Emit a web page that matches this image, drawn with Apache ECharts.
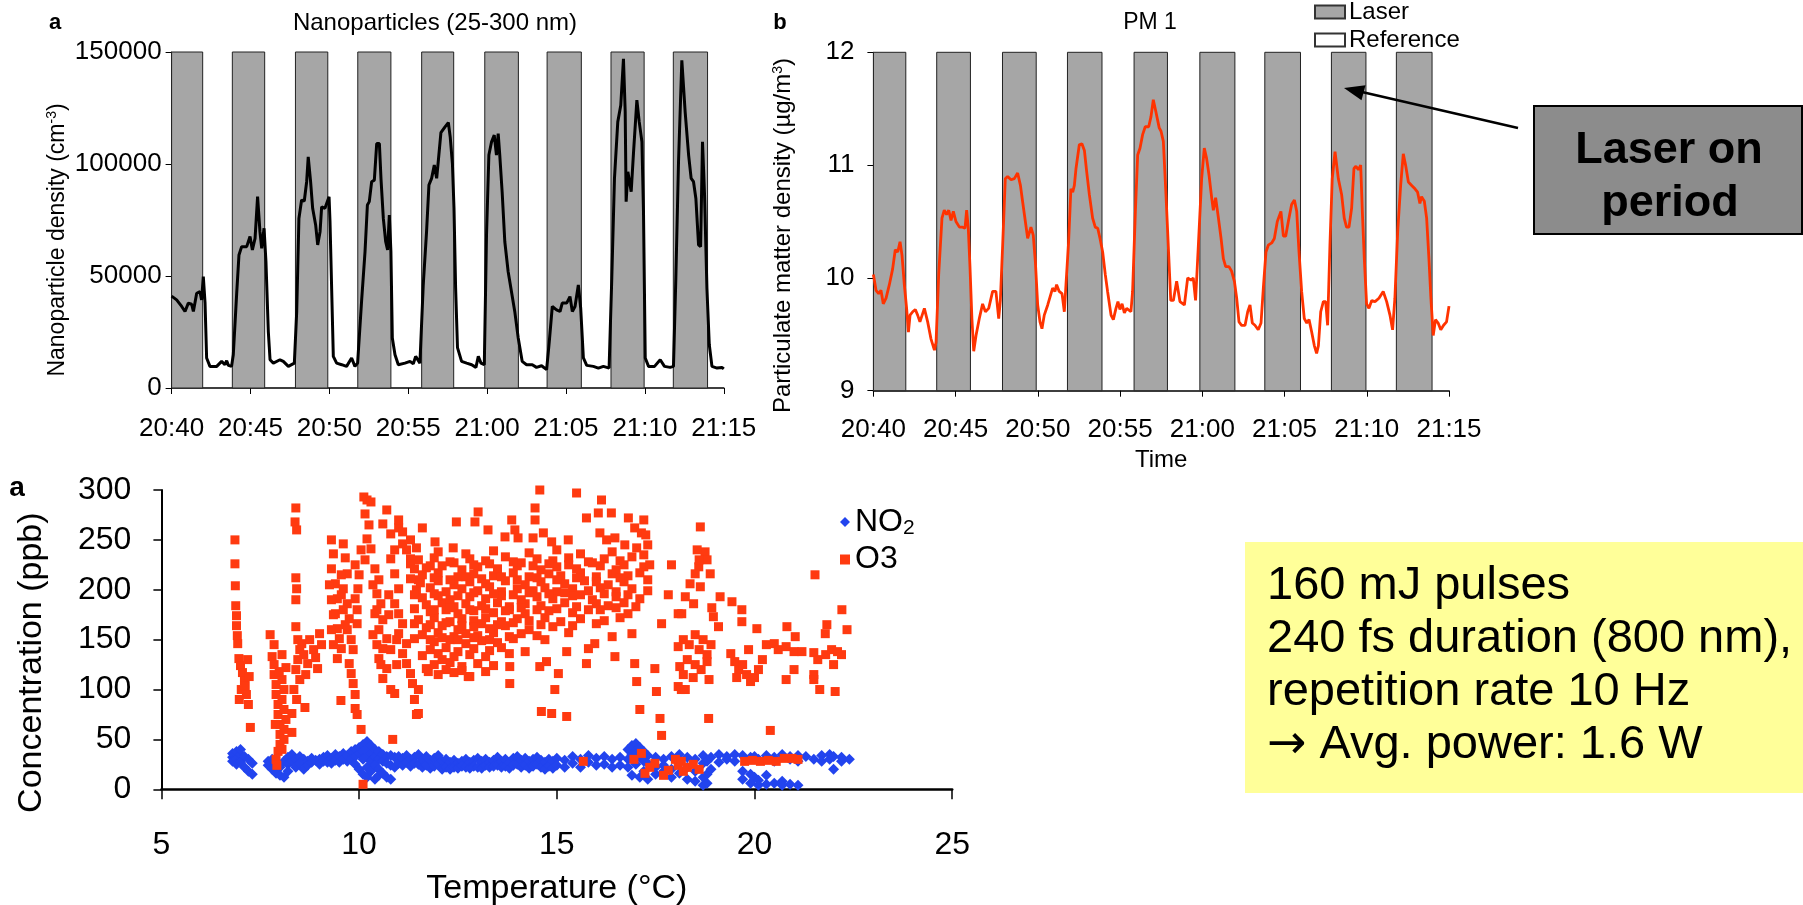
<!DOCTYPE html>
<html>
<head>
<meta charset="utf-8">
<script src="https://cdn.jsdelivr.net/npm/echarts@6/dist/echarts.min.js"></script>
<style>
  html, body { margin: 0; padding: 0; background: #fff; }
  #chart { width: 1803px; height: 905px; }
</style>
</head>
<body>
<div id="chart"></div>
<script>
// Données relevées à l'oeil sur la figure (minutes depuis 20:40)
const FONT = '"Liberation Sans", Arial, sans-serif';
const timeLabels = ['20:40', '20:45', '20:50', '20:55', '21:00', '21:05', '21:10', '21:15'];
const laserStart = [0, 3.85, 7.85, 11.8, 15.85, 19.85, 23.8, 27.85, 31.8];
const laserEnd = [1.97, 5.9, 9.9, 13.9, 17.88, 21.98, 25.97, 29.95, 33.97];

const nanoParticles = [
  [0, 41000], [0.32, 39350], [0.64, 36400], [0.85, 34150], [1.06, 37870], [1.27, 37400], [1.38, 34150],
  [1.59, 42300], [1.8, 43000], [1.9, 39350], [2.01, 49750], [2.12, 37870], [2.22, 13400], [2.43, 9650],
  [2.86, 9650], [3.17, 11900], [3.38, 10400], [3.49, 12200], [3.6, 10100], [3.8, 9650], [3.91, 14850],
  [4.12, 41600], [4.27, 59400], [4.44, 63100], [4.76, 63100], [4.97, 67600], [5.12, 61600], [5.29, 66800],
  [5.45, 85400], [5.6, 69800], [5.71, 62400], [5.86, 71300], [5.98, 56400], [6.13, 25200], [6.24, 12600],
  [6.45, 11100], [6.87, 12600], [7.08, 11900], [7.4, 9650], [7.78, 11100], [7.93, 34150], [8.07, 75700],
  [8.24, 83900], [8.41, 83500], [8.56, 92100], [8.66, 103200], [8.81, 92100], [8.94, 80200], [9.13, 72800],
  [9.26, 63900], [9.41, 69800], [9.51, 80900], [9.72, 80200], [9.98, 85400], [10.04, 74250], [10.25, 14100],
  [10.46, 11100], [10.78, 10400], [11.09, 9650], [11.41, 13400], [11.62, 9650], [11.79, 11100], [12.04, 38600],
  [12.26, 60900], [12.41, 81700], [12.53, 83200], [12.68, 92100], [12.85, 92800], [13.0, 109100], [13.17, 109100],
  [13.27, 93600], [13.42, 75700], [13.57, 65300], [13.69, 61600], [13.8, 77200], [13.9, 60900], [13.99, 22300],
  [14.16, 14850], [14.37, 10400], [14.79, 11100], [15.11, 11900], [15.32, 10800], [15.47, 14100], [15.74, 11100],
  [15.95, 46000], [16.16, 69800], [16.31, 90600], [16.48, 93600], [16.65, 99500], [16.8, 93600], [16.9, 101000],
  [17.07, 114000], [17.33, 116600], [17.54, 118500], [17.66, 112000], [17.8, 100000], [17.9, 80000], [18.0, 45000],
  [18.12, 18000], [18.38, 11900], [18.7, 11100], [19.02, 10400], [19.29, 9200], [19.44, 14100], [19.61, 11100],
  [19.82, 10400], [19.96, 68300], [20.11, 104000], [20.28, 109900], [20.45, 112900], [20.59, 104000], [20.7, 113600],
  [20.8, 104000], [20.95, 87600], [21.12, 65300], [21.33, 52000], [21.54, 43100], [21.75, 34200], [21.97, 22300],
  [22.22, 11900], [22.5, 10400], [22.86, 10400], [23.13, 9200], [23.45, 9950], [23.77, 8200], [23.94, 20800],
  [24.13, 36400], [24.4, 34900], [24.62, 34150], [24.76, 37900], [25.04, 37900], [25.25, 40800], [25.4, 34150],
  [25.57, 36400], [25.78, 46000], [25.93, 35600], [26.1, 13400], [26.31, 10100], [26.73, 9650], [27.05, 8900],
  [27.37, 9650], [27.73, 8900], [27.9, 49000], [28.07, 93600], [28.28, 118800], [28.47, 126200], [28.64, 147000],
  [28.75, 123300], [28.81, 83200], [28.92, 96500], [29.03, 97300], [29.13, 87600], [29.28, 105400], [29.49, 128500],
  [29.64, 118800], [29.81, 109900], [29.91, 78700], [30.02, 13400], [30.23, 9650], [30.61, 9650], [30.97, 12600],
  [31.24, 9650], [31.6, 9200], [31.81, 9650], [31.96, 49000], [32.13, 101000], [32.34, 146300], [32.55, 123300],
  [32.77, 104000], [32.93, 93600], [33.08, 92100], [33.23, 84600], [33.4, 63900], [33.53, 63100], [33.65, 109900],
  [33.78, 86100], [33.93, 44550], [34.08, 19300], [34.25, 9650], [34.57, 8900], [34.88, 9200], [35.0, 8500]
];

const pm1 = [
  [0, 10.03], [0.16, 9.89], [0.32, 9.86], [0.46, 9.89], [0.6, 9.77], [0.77, 9.82], [0.97, 9.94], [1.17, 10.08],
  [1.33, 10.25], [1.48, 10.23], [1.62, 10.32], [1.74, 10.2], [1.88, 9.94], [2.02, 9.73], [2.13, 9.52], [2.23, 9.67],
  [2.39, 9.7], [2.55, 9.72], [2.69, 9.67], [2.83, 9.61], [3.1, 9.73], [3.3, 9.61], [3.5, 9.46], [3.71, 9.36],
  [3.81, 9.43], [3.97, 10.03], [4.17, 10.53], [4.31, 10.6], [4.45, 10.56], [4.58, 10.6], [4.72, 10.51], [4.86, 10.59],
  [5.02, 10.5], [5.23, 10.45], [5.43, 10.45], [5.57, 10.44], [5.67, 10.6], [5.77, 10.44], [5.87, 10.11], [5.99, 9.64],
  [6.1, 9.35], [6.24, 9.49], [6.44, 9.64], [6.64, 9.77], [6.81, 9.7], [7.01, 9.73], [7.25, 9.88], [7.45, 9.88],
  [7.62, 9.64], [7.72, 9.8], [7.86, 10.29], [8.02, 10.88], [8.16, 10.9], [8.37, 10.87], [8.57, 10.88], [8.77, 10.93],
  [8.94, 10.82], [9.07, 10.68], [9.24, 10.5], [9.38, 10.35], [9.48, 10.35], [9.58, 10.45], [9.72, 10.38], [9.85, 10.14],
  [9.99, 9.76], [10.13, 9.61], [10.25, 9.55], [10.39, 9.67], [10.6, 9.76], [10.8, 9.86], [10.9, 9.91], [11.04, 9.88],
  [11.14, 9.94], [11.3, 9.88], [11.47, 9.86], [11.61, 9.7], [11.71, 9.94], [11.87, 10.32], [12.01, 10.79], [12.12, 10.76],
  [12.22, 10.82], [12.32, 10.97], [12.52, 11.18], [12.68, 11.19], [12.83, 11.13], [12.97, 10.94], [13.13, 10.74], [13.33, 10.53],
  [13.49, 10.45], [13.64, 10.44], [13.78, 10.35], [13.94, 10.23], [14.1, 10.03], [14.24, 9.88], [14.45, 9.67], [14.59, 9.63],
  [14.75, 9.73], [14.87, 9.79], [14.99, 9.72], [15.12, 9.77], [15.26, 9.69], [15.4, 9.73], [15.66, 9.7], [15.76, 9.88],
  [15.93, 10.59], [16.07, 11.09], [16.21, 11.15], [16.37, 11.27], [16.53, 11.34], [16.74, 11.34], [16.88, 11.43], [17.02, 11.58],
  [17.18, 11.47], [17.38, 11.33], [17.49, 11.3], [17.63, 11.21], [17.79, 10.74], [17.93, 10.29], [18.08, 9.8], [18.24, 9.8],
  [18.44, 9.97], [18.64, 9.79], [18.91, 9.76], [19.11, 10.0], [19.31, 9.98], [19.45, 10.0], [19.59, 9.8], [19.76, 10.29],
  [19.96, 10.88], [20.12, 11.15], [20.26, 11.06], [20.41, 10.91], [20.57, 10.71], [20.67, 10.6], [20.81, 10.71], [20.98, 10.53],
  [21.14, 10.35], [21.28, 10.17], [21.42, 10.1], [21.62, 10.1], [21.78, 10.06], [21.95, 9.97], [22.09, 9.82], [22.23, 9.61],
  [22.39, 9.58], [22.6, 9.58], [22.76, 9.7], [22.9, 9.76], [23.04, 9.6], [23.2, 9.58], [23.4, 9.54], [23.57, 9.6],
  [23.71, 9.91], [23.87, 10.23], [24.01, 10.29], [24.22, 10.31], [24.38, 10.35], [24.56, 10.5], [24.78, 10.59], [24.93, 10.37],
  [25.07, 10.37], [25.23, 10.5], [25.43, 10.65], [25.6, 10.69], [25.74, 10.59], [25.88, 10.23], [26.04, 9.88], [26.2, 9.64],
  [26.35, 9.6], [26.49, 9.63], [26.65, 9.52], [26.81, 9.4], [26.95, 9.33], [27.06, 9.4], [27.2, 9.7], [27.36, 9.79],
  [27.5, 9.79], [27.62, 9.58], [27.76, 10.29], [27.9, 10.88], [28.07, 11.12], [28.17, 11.0], [28.27, 10.88], [28.37, 10.88],
  [28.47, 10.74], [28.63, 10.53], [28.77, 10.45], [28.92, 10.45], [29.08, 10.62], [29.22, 10.97], [29.34, 10.99], [29.49, 10.96],
  [29.63, 11.0], [29.73, 10.59], [29.85, 10.17], [29.99, 9.77], [30.13, 9.73], [30.3, 9.8], [30.5, 9.79], [30.74, 9.82],
  [31.0, 9.88], [31.21, 9.79], [31.41, 9.67], [31.57, 9.54], [31.71, 9.82], [31.88, 10.41], [32.06, 10.82], [32.22, 11.1],
  [32.36, 11.0], [32.53, 10.85], [32.73, 10.82], [32.93, 10.79], [33.09, 10.76], [33.23, 10.66], [33.33, 10.72], [33.5, 10.68],
  [33.64, 10.53], [33.78, 10.17], [33.9, 9.82], [34.04, 9.49], [34.18, 9.63], [34.34, 9.6], [34.5, 9.54], [34.67, 9.58],
  [34.85, 9.61], [35.0, 9.75]
];

// Nuage de points : [température °C, concentration ppb]
const no2Points = [
  [6.8, 32], [6.8, 36], [6.8, 28], [6.9, 38], [6.9, 30], [6.9, 25], [7.0, 35], [7.0, 40], [7.0, 27], [7.1, 33], [7.1, 22],
  [7.2, 30], [7.2, 18], [7.3, 26], [7.3, 15], [7.7, 28], [7.7, 24], [7.8, 30], [7.8, 20], [7.9, 26], [7.9, 16],
  [8.0, 22], [8.0, 14], [8.1, 28], [8.1, 12], [8.2, 32], [8.2, 25], [8.2, 18], [8.3, 35], [8.3, 28], [8.4, 30], [8.4, 22],
  [8.5, 33], [8.5, 26], [8.6, 30], [8.6, 20], [8.7, 28], [8.7, 24], [8.8, 31], [8.8, 27], [8.9, 29], [9.0, 30], [9.0, 25],
  [9.1, 32], [9.1, 28], [9.2, 34], [9.2, 27], [9.3, 31], [9.3, 26], [9.4, 35], [9.4, 29], [9.5, 33], [9.5, 27], [9.6, 36],
  [9.6, 30], [9.7, 34], [9.7, 28], [9.8, 38], [9.8, 30], [9.9, 40], [9.9, 33], [9.9, 25], [10.0, 42], [10.0, 36], [10.0, 20],
  [10.1, 45], [10.1, 38], [10.1, 30], [10.1, 15], [10.2, 48], [10.2, 40], [10.2, 33], [10.2, 22], [10.2, 12], [10.3, 44],
  [10.3, 36], [10.3, 28], [10.3, 18], [10.4, 40], [10.4, 32], [10.4, 24], [10.4, 10], [10.5, 38], [10.5, 30], [10.5, 20],
  [10.5, 14], [10.6, 35], [10.6, 28], [10.6, 16], [10.7, 33], [10.7, 26], [10.7, 12], [10.8, 34], [10.8, 24], [10.8, 10],
  [10.9, 32], [10.9, 22], [11.0, 33], [11.0, 26], [11.1, 31], [11.1, 24], [11.2, 34], [11.2, 27], [11.3, 30], [11.3, 23],
  [11.4, 32], [11.4, 26], [11.5, 35], [11.5, 25], [11.6, 30], [11.6, 22], [11.7, 33], [11.7, 24], [11.8, 29], [11.8, 21],
  [11.9, 31], [11.9, 23], [12.0, 34], [12.0, 25], [12.1, 28], [12.1, 20], [12.2, 30], [12.2, 22], [12.3, 27], [12.3, 20],
  [12.4, 29], [12.4, 22], [12.5, 26], [12.5, 21], [12.6, 28], [12.6, 23], [12.7, 30], [12.7, 22], [12.8, 27], [12.8, 21],
  [12.9, 29], [12.9, 23], [13.0, 31], [13.0, 22], [13.1, 28], [13.1, 21], [13.2, 30], [13.2, 24], [13.3, 27], [13.3, 22],
  [13.4, 29], [13.4, 23], [13.5, 32], [13.5, 24], [13.6, 28], [13.6, 22], [13.7, 30], [13.7, 23], [13.8, 27], [13.8, 21],
  [13.9, 31], [13.9, 24], [14.0, 33], [14.0, 25], [14.1, 29], [14.1, 22], [14.2, 31], [14.2, 24], [14.3, 28], [14.3, 21],
  [14.4, 30], [14.4, 23], [14.5, 32], [14.5, 25], [14.6, 29], [14.6, 22], [14.7, 27], [14.7, 20], [14.8, 30], [14.8, 23],
  [14.9, 28], [14.9, 21], [15.0, 31], [15.0, 24], [15.2, 29], [15.2, 22], [15.4, 33], [15.4, 26], [15.6, 30], [15.6, 22],
  [15.8, 34], [15.8, 27], [16.0, 31], [16.0, 24], [16.2, 33], [16.2, 25], [16.4, 30], [16.4, 22], [16.6, 32], [16.6, 24],
  [16.8, 40], [16.8, 30], [16.8, 22], [16.9, 44], [16.9, 35], [16.9, 14], [17.0, 46], [17.0, 38], [17.0, 25], [17.1, 42],
  [17.1, 32], [17.1, 12], [17.2, 38], [17.2, 28], [17.2, 18], [17.3, 34], [17.3, 26], [17.3, 10], [17.5, 32], [17.5, 22],
  [17.5, 15], [17.7, 30], [17.7, 24], [17.7, 18], [17.9, 33], [17.9, 20], [17.9, 12], [18.1, 35], [18.1, 28], [18.1, 16],
  [18.3, 32], [18.3, 22], [18.3, 10], [18.5, 30], [18.5, 18], [18.5, 8], [18.7, 34], [18.7, 26], [18.7, 12], [18.7, 4],
  [18.8, 28], [18.8, 15], [18.8, 6], [18.9, 32], [18.9, 20], [19.1, 35], [19.1, 27], [19.3, 33], [19.3, 30], [19.5, 35],
  [19.5, 28], [19.7, 34], [19.7, 18], [19.7, 10], [19.9, 32], [19.9, 15], [19.9, 6], [20.0, 33], [20.0, 12], [20.1, 30],
  [20.1, 9], [20.1, 4], [20.3, 34], [20.3, 14], [20.3, 5], [20.5, 32], [20.5, 28], [20.5, 6], [20.7, 35], [20.7, 8],
  [20.7, 4], [20.9, 33], [20.9, 30], [20.9, 5], [21.1, 34], [21.1, 28], [21.1, 4], [21.3, 33], [21.5, 30], [21.7, 34],
  [21.7, 28], [21.9, 35], [21.9, 30], [22.0, 33], [22.0, 20], [22.2, 32], [22.2, 28], [22.4, 30]
];

const o3Points = [
  [6.86, 250], [6.86, 226], [6.87, 204], [6.88, 184], [6.9, 174], [6.9, 164], [6.92, 154], [6.93, 146], [6.96, 131],
  [7.0, 124], [7.05, 117], [7.1, 109], [7.02, 100], [7.15, 95], [6.97, 90], [7.2, 85], [7.25, 62], [7.12, 104], [7.22, 113],
  [7.18, 130], [7.75, 155], [7.8, 133], [7.85, 125], [7.85, 115], [7.9, 105], [7.9, 95], [7.95, 85], [7.95, 75], [8.0, 65],
  [8.0, 55], [8.0, 45], [7.95, 38], [7.9, 30], [7.92, 24], [8.05, 110], [8.1, 100], [8.05, 90], [8.1, 80], [8.1, 60],
  [8.1, 50], [8.05, 40], [7.85, 145], [8.05, 135], [8.15, 122], [8.15, 70], [7.88, 65], [7.98, 118],
  [8.4, 282], [8.38, 268], [8.42, 260], [8.4, 212], [8.42, 201], [8.4, 190], [8.4, 163], [8.45, 150], [8.5, 140], [8.45, 130],
  [8.4, 120], [8.5, 110], [8.55, 146], [8.6, 135], [8.7, 126], [8.3, 76], [8.3, 57], [8.63, 82], [8.35, 100], [8.42, 90],
  [8.75, 150], [8.85, 140], [8.95, 121], [9.05, 145], [9.0, 156], [8.9, 132], [8.65, 115],
  [9.54, 89], [9.3, 250], [9.35, 236], [9.3, 221], [9.4, 206], [9.45, 191], [9.4, 176], [9.45, 161], [9.5, 151], [9.55, 141],
  [9.45, 131], [9.6, 246], [9.65, 232], [9.7, 216], [9.6, 201], [9.7, 186], [9.75, 171], [9.7, 160], [9.8, 150], [9.85, 140],
  [9.75, 126], [9.8, 116], [9.85, 106], [9.9, 95], [9.9, 81], [9.95, 180], [9.95, 166], [9.9, 191], [9.97, 201], [9.95, 75],
  [10.05, 60], [10.1, 5],
  [9.25, 205], [9.3, 190], [9.35, 175], [9.3, 160], [9.35, 145], [9.55, 215], [9.6, 180], [9.65, 165], [9.55, 195],
  [9.9, 225], [10.0, 215], [10.05, 240],
  [10.12, 293], [10.2, 290], [10.3, 288], [10.15, 276], [10.25, 265], [10.2, 251], [10.3, 241], [10.15, 230], [10.4, 221],
  [10.5, 210], [10.45, 196], [10.55, 186], [10.4, 176], [10.6, 170], [10.5, 160], [10.7, 151], [10.6, 141], [10.5, 131],
  [10.7, 121], [10.6, 111], [10.8, 100], [10.9, 96], [10.8, 231], [10.9, 216], [11.0, 201], [10.9, 186], [11.0, 176],
  [11.1, 166], [11.0, 156], [11.2, 146], [11.1, 136], [11.2, 126], [11.3, 116], [11.35, 106], [11.4, 90], [11.45, 75],
  [10.7, 280], [10.8, 256], [11.0, 262], [11.1, 246], [11.2, 240], [11.3, 231], [11.4, 221], [10.6, 266], [11.5, 210],
  [10.85, 50], [11.1, 258], [11.3, 250], [11.6, 262], [11.0, 270], [10.9, 240],
  [10.35, 205], [10.45, 180], [10.35, 155], [10.45, 145], [10.55, 125], [10.75, 175], [10.8, 140], [10.95, 125],
  [10.75, 195], [10.95, 150],
  [14.57, 300], [15.5, 297], [16.13, 290], [13.01, 278], [12.46, 268], [12.93, 268], [13.86, 270], [14.45, 282], [14.45, 270],
  [15.75, 272], [16.05, 277], [16.38, 277], [16.81, 272], [16.97, 262], [17.14, 257], [13.26, 260], [13.69, 253], [13.94, 260],
  [14.02, 252], [14.4, 252], [14.66, 257], [14.87, 248], [15.29, 250], [16.09, 257], [16.26, 250], [16.47, 252], [16.72, 245],
  [17.02, 242], [11.92, 248], [12.38, 242], [11.45, 242],
  [11.75, 118], [11.5, 100], [11.5, 76], [12.76, 113], [13.81, 106], [13.81, 123], [14.57, 123], [14.74, 128], [15.04, 116],
  [14.95, 100], [14.61, 78], [14.87, 76], [15.25, 73], [15.75, 126], [15.25, 138], [15.96, 146], [16.47, 133], [16.97, 126],
  [17.02, 108], [17.1, 80], [17.48, 121], [17.52, 98], [17.61, 71], [17.65, 54], [17.65, 166], [17.9, 225], [17.82, 195],
  [18.07, 176], [18.07, 143], [18.11, 123], [18.07, 103],
  [15.67, 28], [17.14, 36], [17.23, 16], [17.48, 26], [17.82, 19], [18.07, 24], [16.95, 30], [17.35, 22], [17.7, 14],
  [18.0, 30], [18.2, 18],
  [11.5, 230], [11.9, 232], [12.3, 228], [12.8, 231], [13.2, 229], [13.7, 233], [14.1, 227], [14.5, 231], [14.9, 229],
  [15.3, 232], [15.8, 228], [16.2, 231], [16.6, 229], [16.9, 233],
  [11.6, 215], [12.0, 217], [12.5, 213], [12.9, 216], [13.4, 214], [13.9, 217], [14.3, 213], [14.8, 216], [15.1, 214],
  [15.6, 217], [16.0, 213], [16.4, 216], [16.8, 214], [17.1, 217],
  [11.45, 200], [11.8, 202], [12.2, 198], [12.6, 201], [13.0, 199], [13.3, 203], [13.6, 198], [14.0, 201], [14.4, 199],
  [14.7, 202], [15.0, 198], [15.4, 201], [15.8, 199], [16.1, 202], [16.5, 198], [16.9, 201], [17.3, 199],
  [11.7, 185], [12.1, 187], [12.4, 183], [12.7, 186], [13.1, 184], [13.5, 187], [13.8, 183], [14.2, 186], [14.6, 184],
  [15.2, 187], [15.5, 183], [16.0, 186], [16.3, 184], [16.7, 187], [17.0, 183],
  [11.5, 170], [11.9, 172], [12.3, 168], [12.6, 171], [12.9, 169], [13.2, 172], [13.6, 168], [14.0, 171], [14.3, 169],
  [14.7, 172], [15.1, 168], [15.6, 171], [16.2, 169], [16.6, 172],
  [11.6, 155], [12.0, 157], [12.4, 153], [12.7, 156], [13.0, 154], [13.4, 157], [13.8, 153], [14.1, 156], [14.5, 154],
  [15.3, 157], [16.4, 153], [16.9, 156],
  [11.8, 140], [12.2, 142], [12.5, 138], [12.9, 141], [13.3, 139], [13.6, 142], [14.2, 138], [15.8, 141],
  [11.9, 125], [12.3, 127], [12.6, 123], [13.0, 126], [13.4, 124], [12.1, 130], [12.0, 115], [12.4, 117], [12.8, 113],
  [11.7, 222], [12.1, 224], [12.6, 220], [13.0, 223], [13.5, 221], [14.0, 224], [14.6, 220], [15.0, 223], [15.5, 221],
  [16.1, 224], [16.5, 220], [17.2, 223],
  [11.55, 207], [12.0, 209], [12.4, 205], [12.8, 208], [13.2, 206], [13.7, 209], [14.2, 205], [14.6, 208], [15.2, 206],
  [15.7, 209], [16.3, 205], [16.7, 208],
  [11.6, 192], [12.0, 194], [12.3, 190], [12.8, 193], [13.2, 191], [13.6, 194], [14.1, 190], [14.5, 193], [14.9, 191],
  [15.4, 194], [15.9, 190], [16.5, 193], [17.1, 191],
  [11.8, 178], [12.2, 180], [12.5, 176], [12.9, 179], [13.4, 177], [13.8, 180], [14.2, 176], [14.8, 179], [15.4, 177],
  [16.1, 180], [16.8, 176],
  [11.7, 162], [12.1, 164], [12.5, 160], [12.9, 163], [13.3, 161], [13.7, 164], [14.3, 160], [14.9, 163],
  [11.9, 148], [12.3, 150], [12.7, 146], [13.1, 149], [13.5, 147],
  [12.0, 238], [12.7, 236], [13.4, 239], [14.3, 237], [15.0, 240], [15.6, 236], [16.4, 238],
  [11.3, 226], [11.8, 224], [12.4, 227], [12.9, 225], [13.3, 226], [13.9, 228], [14.4, 224], [14.8, 226], [15.3, 225],
  [15.9, 227], [16.7, 225],
  [11.3, 211], [11.9, 212], [12.3, 210], [12.7, 213], [13.1, 211], [13.6, 213], [14.0, 210], [14.5, 212], [15.0, 210],
  [15.5, 212], [16.0, 208], [16.6, 212],
  [11.4, 195], [11.9, 196], [12.5, 194], [12.9, 197], [13.4, 196], [13.9, 195], [14.3, 197], [14.8, 196], [15.2, 197],
  [15.6, 195], [16.2, 196], [16.8, 195],
  [11.4, 181], [11.9, 180], [12.3, 182], [12.8, 180], [13.2, 181], [13.7, 179], [14.1, 182], [14.5, 180], [15.0, 181],
  [15.8, 180], [16.5, 182],
  [11.4, 166], [11.8, 165], [12.2, 167], [12.6, 164], [13.1, 166], [13.5, 165], [13.9, 167], [14.6, 165], [15.4, 164],
  [16.0, 166],
  [11.4, 151], [11.8, 150], [12.1, 152], [12.5, 150], [12.9, 152], [13.3, 150], [13.9, 151], [14.7, 150],
  [11.6, 134], [12.0, 136], [12.4, 133], [12.8, 135], [13.2, 133], [13.8, 136],
  [11.7, 121], [12.2, 120], [12.6, 119], [13.2, 118],
  [17.2, 270], [17.25, 255], [17.3, 245], [17.2, 235], [17.35, 225], [17.3, 210],
  [18.63, 263], [18.75, 238], [18.8, 230], [18.59, 223], [18.5, 216], [18.88, 216], [18.37, 206], [18.63, 203], [18.25, 193],
  [18.46, 186], [18.16, 176], [19.13, 193], [19.43, 188], [19.68, 180], [18.92, 182], [18.96, 173], [19.09, 163], [19.68, 168],
  [20.06, 161], [20.82, 163], [21.03, 153], [21.83, 165], [21.79, 156], [22.21, 180], [22.34, 160], [21.53, 215],
  [18.55, 240], [18.6, 230],
  [18.2, 150], [18.35, 145], [18.5, 155], [18.6, 140], [18.7, 150], [18.8, 135], [18.9, 145], [18.5, 125], [18.65, 120],
  [18.8, 128], [18.3, 130], [18.45, 112], [18.2, 115], [18.85, 110], [18.15, 100], [18.25, 100], [18.84, 71], [20.4, 59],
  [19.4, 136], [19.5, 128], [19.6, 120], [19.7, 125], [19.8, 115], [19.9, 108], [20.0, 112], [20.1, 120], [20.2, 130],
  [19.85, 140], [20.3, 145], [19.55, 112], [20.5, 146], [20.6, 140], [20.8, 143], [21.0, 138], [21.2, 138], [20.8, 110],
  [21.0, 120], [21.5, 137], [21.6, 130], [21.8, 135], [21.95, 140], [22.1, 138], [22.2, 135], [21.65, 100], [21.5, 115],
  [22.0, 125], [21.5, 110], [22.04, 98],
  [18.15, 28], [18.3, 22], [18.45, 25], [18.6, 20], [19.75, 28], [19.95, 29], [20.15, 28], [20.35, 29], [20.55, 28],
  [20.75, 31], [20.95, 31], [21.1, 30]
];

const laserAreas = laserStart.map((s, i) => [{ xAxis: s }, { xAxis: laserEnd[i] }]);

function timeAxis(gridIndex, margin, extra) {
  return Object.assign({
    gridIndex, type: 'value', min: 0, max: 35, interval: 5,
    axisLine: { show: true, lineStyle: { color: '#000', width: 1.5 } },
    axisTick: { show: true, length: 6, lineStyle: { color: '#000', width: 1 } },
    axisLabel: { formatter: (v) => timeLabels[Math.round(v / 5)], fontSize: 26, color: '#000', fontFamily: FONT, margin },
    splitLine: { show: false }
  }, extra || {});
}
function valueAxis(gridIndex, min, max, interval, extra) {
  return Object.assign({
    gridIndex, type: 'value', min, max, interval,
    axisLine: { show: true, lineStyle: { color: '#000', width: 1 } },
    axisTick: { show: true, length: 6, lineStyle: { color: '#000' } },
    axisLabel: { formatter: (v) => String(v), fontSize: 26, color: '#000', fontFamily: FONT, margin: 10 },
    splitLine: { show: false },
    nameLocation: 'middle'
  }, extra || {});
}
const supRich = { sup: { fontSize: 14, verticalAlign: 'top', padding: [0, 0, 10, 0], fontFamily: FONT, color: '#000' } };

function txt(text, x, y, size, weight, align) {
  return {
    type: 'text', x, y, z: 100, silent: true,
    style: { text, fill: '#000', font: `${weight || 'normal'} ${size}px ${FONT}`,
      textAlign: align || 'center', align: align || 'center', textVerticalAlign: 'middle', verticalAlign: 'middle' }
  };
}

const chart = echarts.init(document.getElementById('chart'), null, { renderer: 'canvas' });
chart.setOption({
  animation: false,
  backgroundColor: '#fff',
  textStyle: { fontFamily: FONT },
  grid: [
    { left: 171.6, top: 52, width: 552.2, height: 336, containLabel: false, outerBoundsMode: 'none' },
    { left: 873.4, top: 52.3, width: 575.6, height: 338.4, containLabel: false, outerBoundsMode: 'none' },
    { left: 161.4, top: 490, width: 790.8, height: 299.3, containLabel: false, outerBoundsMode: 'none' }
  ],
  xAxis: [
    timeAxis(0, 28),
    timeAxis(1, 26, { name: 'Time', nameLocation: 'middle', nameGap: 58,
      nameTextStyle: { fontSize: 24, color: '#000', fontFamily: FONT } }),
    {
      gridIndex: 2, type: 'value', min: 5, max: 25, interval: 5,
      axisLine: { show: true, lineStyle: { color: '#000', width: 2.5 } },
      axisTick: { show: true, length: 10, lineStyle: { color: '#000', width: 1.5 } },
      axisLabel: { fontSize: 32, color: '#000', fontFamily: FONT, margin: 40 },
      splitLine: { show: false },
      name: 'Temperature (°C)', nameLocation: 'middle', nameGap: 82,
      nameTextStyle: { fontSize: 34, color: '#000', fontFamily: FONT }
    }
  ],
  yAxis: [
    valueAxis(0, 0, 150000, 50000, {
      name: 'Nanoparticle density (cm{sup|-3})', nameGap: 102,
      nameTextStyle: { fontSize: 23, color: '#000', fontFamily: FONT, rich: supRich, padding: [0, 40, 0, 0] }
    }),
    valueAxis(1, 9, 12, 1, {
      axisLabel: { fontSize: 26, color: '#000', fontFamily: FONT, margin: 19 },
      name: 'Particulate matter density (µg/m{sup|3})', nameGap: 78,
      nameTextStyle: { fontSize: 24, color: '#000', fontFamily: FONT, rich: supRich, padding: [0, 28, 0, 0] }
    }),
    valueAxis(2, 0, 300, 50, {
      axisLine: { show: true, lineStyle: { color: '#000', width: 2 } },
      axisTick: { show: true, length: 8, lineStyle: { color: '#000', width: 1.5 } },
      axisLabel: { fontSize: 32, color: '#000', fontFamily: FONT, margin: 30 },
      name: 'Concentration (ppb)', nameGap: 113,
      nameTextStyle: { fontSize: 34, color: '#000', fontFamily: FONT, padding: [0, 46, 0, 0] }
    })
  ],
  legend: [
    {
      data: ['Laser', 'Reference'], orient: 'vertical', left: 1309, top: -5, itemGap: 4,
      itemWidth: 30, itemHeight: 13, icon: 'rect', selectedMode: false,
      textStyle: { fontSize: 24, color: '#000', fontFamily: FONT, padding: [0, 0, 0, -1] }
    },
    {
      data: [{ name: 'NO2', icon: 'diamond' }, { name: 'O3', icon: 'rect' }],
      orient: 'vertical', left: 835, top: 501, itemGap: 5, itemWidth: 10, itemHeight: 10, selectedMode: false,
      formatter: (n) => (n === 'NO2' ? 'NO{sub|2}' : 'O3'),
      textStyle: { fontSize: 32, color: '#000', fontFamily: FONT,
        rich: { sub: { fontSize: 21, verticalAlign: 'bottom', padding: [12, 0, 0, 0], fontFamily: FONT, color: '#000' } } }
    }
  ],
  series: [
    {
      name: 'Nanoparticles', type: 'line', xAxisIndex: 0, yAxisIndex: 0, data: nanoParticles,
      showSymbol: false, lineStyle: { color: '#000', width: 3 }, z: 3,
      markArea: { silent: true, itemStyle: { color: '#a6a6a6', borderColor: '#222', borderWidth: 1 }, data: laserAreas }
    },
    {
      name: 'PM 1', type: 'line', xAxisIndex: 1, yAxisIndex: 1, data: pm1,
      showSymbol: false, lineStyle: { color: '#ff3300', width: 2.8 }, z: 3,
      markArea: { silent: true, itemStyle: { color: '#a6a6a6', borderColor: '#222', borderWidth: 1 }, data: laserAreas }
    },
    { name: 'Laser', type: 'bar', xAxisIndex: 1, yAxisIndex: 1, data: [],
      itemStyle: { color: '#a6a6a6', borderColor: '#333', borderWidth: 1 } },
    { name: 'Reference', type: 'bar', xAxisIndex: 1, yAxisIndex: 1, data: [],
      itemStyle: { color: '#fff', borderColor: '#333', borderWidth: 1 } },
    {
      name: 'NO2', type: 'scatter', xAxisIndex: 2, yAxisIndex: 2, data: no2Points,
      symbol: 'diamond', symbolSize: 11, itemStyle: { color: '#2244ee', opacity: 1 }, z: 2
    },
    {
      name: 'O3', type: 'scatter', xAxisIndex: 2, yAxisIndex: 2, data: o3Points,
      symbol: 'rect', symbolSize: 9, itemStyle: { color: '#ff3a10', opacity: 1 }, z: 3
    }
  ],
  graphic: [
    txt('a', 55, 23, 22, 'bold'),
    txt('Nanoparticles (25-300 nm)', 435, 23, 24),
    txt('b', 780, 23, 22, 'bold'),
    txt('PM 1', 1150, 23, 23),
    txt('a', 17, 488, 28, 'bold'),
    // flèche vers une période laser
    { type: 'line', z: 100, silent: true, shape: { x1: 1518, y1: 128, x2: 1362, y2: 92 },
      style: { stroke: '#000', lineWidth: 2.5 } },
    { type: 'polygon', z: 100, silent: true, shape: { points: [[1344, 88], [1365.5, 85.3], [1361.5, 100.3]] },
      style: { fill: '#000' } },
    { type: 'rect', z: 100, silent: true, shape: { x: 1534, y: 106, width: 268, height: 128 },
      style: { fill: '#8c8c8c', stroke: '#000', lineWidth: 2 } },
    txt('Laser on', 1669, 151, 45, 'bold'),
    txt('period', 1670, 204, 45, 'bold'),
    { type: 'rect', z: 100, silent: true, shape: { x: 1245, y: 542, width: 558, height: 251 },
      style: { fill: '#ffff99' } },
    { type: 'text', z: 101, silent: true, x: 1267, y: 560,
      style: { text: '160 mJ pulses\n240 fs duration (800 nm),\nrepetition rate 10 Hz\n{arr|→} Avg. power: 1.6 W',
        fill: '#000', font: `47px ${FONT}`, lineHeight: 53, textAlign: 'left', align: 'left',
        textVerticalAlign: 'top', verticalAlign: 'top',
        rich: { arr: { font: '47px "DejaVu Sans"', fill: '#000', lineHeight: 53 } } } }
  ]
});
</script>
</body>
</html>
